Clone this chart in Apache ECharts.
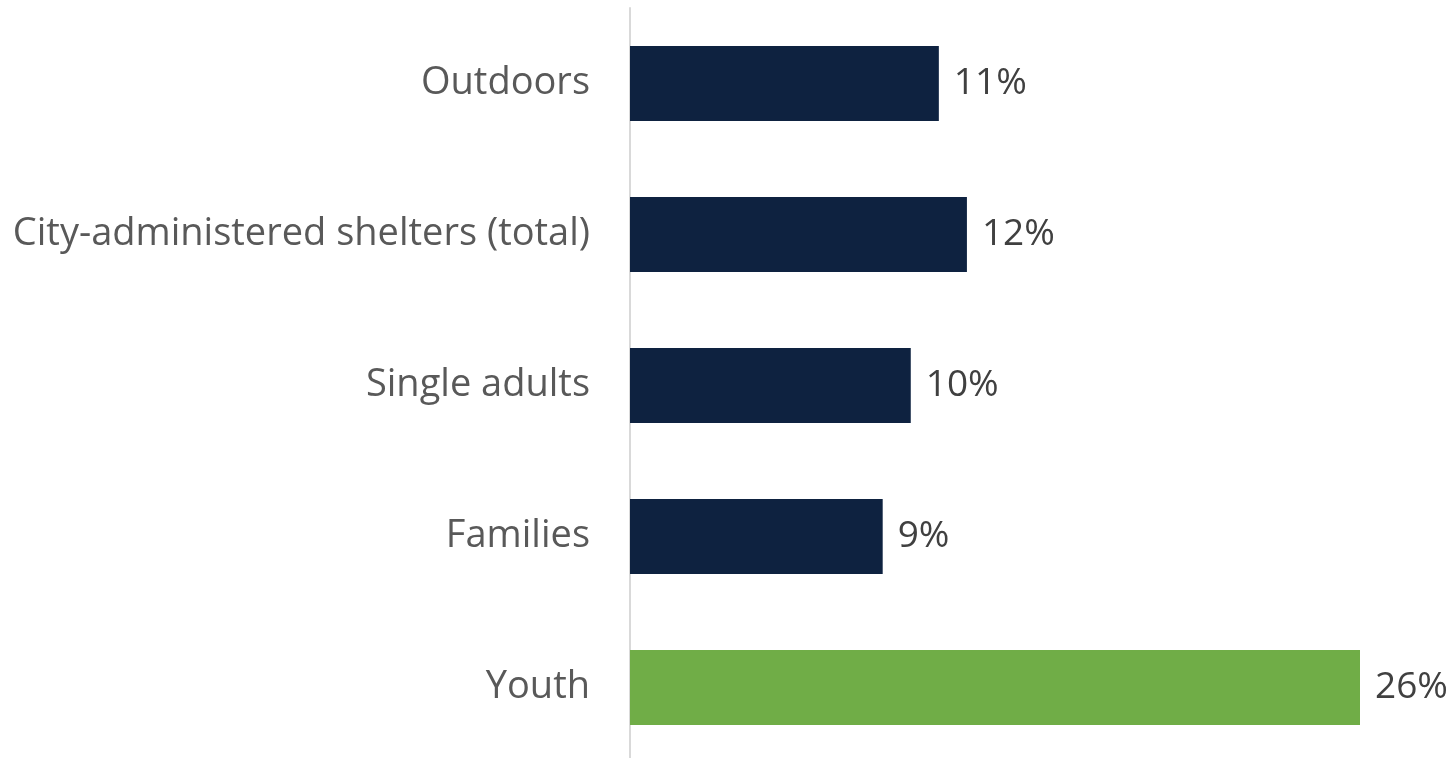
<!DOCTYPE html>
<html>
<head>
<meta charset="utf-8">
<script src="https://cdn.jsdelivr.net/npm/echarts@6/dist/echarts.min.js"></script>
<style>
  html, body { margin: 0; padding: 0; background: #ffffff; }
  #chart { width: 1455px; height: 758px; }
</style>
</head>
<body>
<div id="chart"></div>
<script>
// Categories listed top to bottom
const categories = ['Outdoors', 'City-administered shelters (total)', 'Single adults', 'Families', 'Youth'];
// Share in percent for each category
const values = [11, 12, 10, 9, 26];
const barColors = ['#0E2240', '#0E2240', '#0E2240', '#0E2240', '#70AD47'];

const chart = echarts.init(document.getElementById('chart'));
chart.setOption({
  animation: false,
  grid: { left: 630, top: 8, width: 730, height: 755, outerBoundsMode: 'none', containLabel: false },
  xAxis: {
    type: 'value', min: 0, max: 26, show: false
  },
  yAxis: {
    type: 'category',
    data: categories,
    inverse: true,
    axisLine: { show: true, lineStyle: { color: '#D9D9D9', width: 2 } },
    axisTick: { show: false },
    axisLabel: {
      margin: 40,
      fontFamily: 'Open Sans',
      fontSize: 38,
      color: '#595959'
    }
  },
  series: [{
    type: 'bar',
    barWidth: 75,
    data: values.map((v, i) => ({ value: v, itemStyle: { color: barColors[i] } })),
    label: {
      show: true,
      position: 'right',
      distance: 15,
      formatter: p => p.value + '%',
      fontFamily: 'Open Sans',
      fontSize: 37,
      color: '#404040'
    }
  }]
});
</script>
</body>
</html>
